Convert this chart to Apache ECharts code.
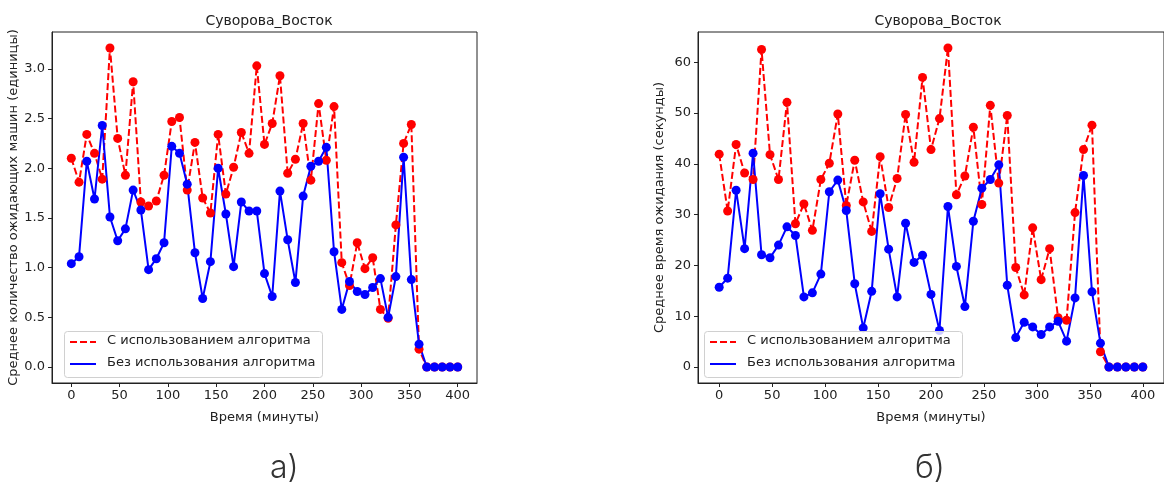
<!DOCTYPE html>
<html lang="ru">
<head>
    <meta charset="UTF-8">
    <title>Суворова_Восток</title>
    <script src="https://cdn.jsdelivr.net/npm/echarts@6/dist/echarts.min.js"></script>
    <style>
        html, body {margin: 0; padding: 0; background: #fff;}
        #main {width: 1164px; height: 488px;}
    </style>
</head>
<body>
<div id="main"></div>
<script type="text/javascript">

    // время, минуты
    var minutes = [0, 8, 16, 24, 32, 40, 48, 56, 64, 72, 80, 88, 96, 104, 112, 120, 128, 136, 144, 152,
        160, 168, 176, 184, 192, 200, 208, 216, 224, 232, 240, 248, 256, 264, 272, 280, 288, 296, 304, 312,
        320, 328, 336, 344, 352, 360, 368, 376, 384, 392, 400];

    // а) среднее количество ожидающих машин
    var carsWith = [2.10, 1.86, 2.34, 2.15, 1.89, 3.21, 2.30, 1.93, 2.87, 1.66, 1.62, 1.67, 1.93, 2.47, 2.51,
        1.78, 2.26, 1.70, 1.55, 2.34, 1.74, 2.01, 2.36, 2.15, 3.03, 2.24, 2.45, 2.93, 1.95, 2.09, 2.45, 1.88,
        2.65, 2.08, 2.62, 1.05, 0.82, 1.25, 0.99, 1.10, 0.58, 0.49, 1.43, 2.25, 2.44, 0.18, 0, 0, 0, 0, 0];
    var carsWithout = [1.04, 1.11, 2.07, 1.69, 2.43, 1.51, 1.27, 1.39, 1.78, 1.58, 0.98, 1.09, 1.25, 2.22, 2.15,
        1.84, 1.15, 0.69, 1.06, 2.00, 1.54, 1.01, 1.66, 1.57, 1.57, 0.94, 0.71, 1.77, 1.28, 0.85, 1.72, 2.02,
        2.07, 2.21, 1.16, 0.58, 0.86, 0.76, 0.73, 0.80, 0.89, 0.50, 0.91, 2.11, 0.88, 0.23, 0, 0, 0, 0, 0];

    // б) среднее время ожидания, секунды
    var waitWith = [41.9, 30.7, 43.8, 38.2, 36.9, 62.5, 41.8, 36.9, 52.1, 28.2, 32.1, 26.9, 36.9, 40.1, 49.8,
        31.8, 40.7, 32.5, 26.7, 41.4, 31.4, 37.1, 49.7, 40.3, 57.0, 42.8, 48.9, 62.8, 33.9, 37.6, 47.2, 32.0,
        51.5, 36.2, 49.5, 19.6, 14.2, 27.4, 17.2, 23.3, 9.7, 9.2, 30.4, 42.8, 47.6, 3.0, 0, 0, 0, 0, 0];
    var waitWithout = [15.7, 17.5, 34.8, 23.3, 42.1, 22.1, 21.5, 24.0, 27.6, 25.9, 13.8, 14.6, 18.3, 34.5, 36.8,
        30.8, 16.4, 7.7, 14.9, 34.1, 23.2, 13.8, 28.3, 20.6, 22.0, 14.3, 7.2, 31.6, 19.8, 11.9, 28.7, 35.2,
        36.9, 39.8, 16.1, 5.8, 8.8, 7.9, 6.4, 7.9, 9.0, 5.1, 13.6, 37.7, 14.8, 4.7, 0, 0, 0, 0, 0];

    var xTicks = [0, 50, 100, 150, 200, 250, 300, 350, 400];
    var carsTicks = [0, 0.5, 1.0, 1.5, 2.0, 2.5, 3.0];
    var waitTicks = [0, 10, 20, 30, 40, 50, 60];

    var seriesNames = ['С использованием алгоритма', 'Без использования алгоритма'];
    var title = 'Суворова_Восток';

    var FONT = 'DejaVu Sans';

    function pairs(ys) {
        return minutes.map(function (m, i) {
            return [m, ys[i]];
        });
    }

    function xAxisFor(idx) {
        return {
            type: 'value', gridIndex: idx, min: -20, max: 420,
            name: 'Время (минуты)', nameLocation: 'middle', nameGap: 28,
            nameTextStyle: {fontFamily: FONT, fontSize: 13, color: '#222'},
            splitLine: {show: false},
            axisLine: {show: true, onZero: false, lineStyle: {color: '#222', width: 1}},
            axisTick: {show: true, length: 4, lineStyle: {color: '#222'}, customValues: xTicks},
            axisLabel: {fontFamily: FONT, fontSize: 13, color: '#222', margin: 6, customValues: xTicks}
        };
    }

    function yAxisFor(idx, name, min, max, ticks, digits, gap) {
        return {
            type: 'value', gridIndex: idx, min: min, max: max,
            name: name, nameLocation: 'middle', nameGap: gap, nameRotate: 90,
            nameTextStyle: {fontFamily: FONT, fontSize: 13, color: '#222'},
            splitLine: {show: false},
            axisLine: {show: true, onZero: false, lineStyle: {color: '#222', width: 1}},
            axisTick: {show: true, length: 4, lineStyle: {color: '#222'}, customValues: ticks},
            axisLabel: {
                fontFamily: FONT, fontSize: 13, color: '#222', margin: 7, customValues: ticks,
                formatter: function (v) {
                    return v.toFixed(digits);
                }
            }
        };
    }

    function lineSeries(idx, name, ys, color, dashed) {
        return {
            type: 'line', name: name, xAxisIndex: idx, yAxisIndex: idx,
            data: pairs(ys),
            symbol: 'circle', symbolSize: 9, showSymbol: true,
            itemStyle: {color: color},
            lineStyle: {color: color, width: 2, type: dashed ? [7, 3] : 'solid'},
            animation: false, silent: true
        };
    }

    function legendBox(x, y) {
        return [
            {type: 'rect', left: x, top: y, shape: {width: 258, height: 46, r: 3},
                style: {fill: 'rgba(255,255,255,0.8)', stroke: '#d0d0d0', lineWidth: 1}, z: 100},
            {type: 'line', shape: {x1: x + 6, y1: y + 11, x2: x + 32, y2: y + 11},
                style: {stroke: '#ff0000', lineWidth: 2, lineDash: [7, 3]}, z: 101},
            {type: 'line', shape: {x1: x + 6, y1: y + 33, x2: x + 32, y2: y + 33},
                style: {stroke: '#0000ff', lineWidth: 2}, z: 101},
            {type: 'text', left: x + 43, top: y + 3, z: 101,
                style: {text: seriesNames[0], font: '13px "' + FONT + '"', fill: '#222'}},
            {type: 'text', left: x + 43, top: y + 25, z: 101,
                style: {text: seriesNames[1], font: '13px "' + FONT + '"', fill: '#222'}}
        ];
    }

    var myChart = echarts.init(document.getElementById('main'), null, {renderer: 'canvas'});

    var option = {
        backgroundColor: '#fff',
        animation: false,
        title: [
            {text: title, left: 264, top: 9, textAlign: 'center',
                textStyle: {fontFamily: FONT, fontSize: 14, fontWeight: 'normal', color: '#222'}},
            {text: title, left: 933, top: 9, textAlign: 'center',
                textStyle: {fontFamily: FONT, fontSize: 14, fontWeight: 'normal', color: '#222'}}
        ],
        grid: [
            {left: 52, top: 32, width: 425, height: 351, show: true, borderColor: '#222', borderWidth: 1,
                backgroundColor: 'transparent'},
            {left: 698, top: 32, width: 470, height: 351, show: true, borderColor: '#222', borderWidth: 1,
                backgroundColor: 'transparent'}
        ],
        xAxis: [xAxisFor(0), xAxisFor(1)],
        yAxis: [
            yAxisFor(0, 'Среднее количество ожидающих машин (единицы)', -0.1605, 3.3705, carsTicks, 1, 30),
            yAxisFor(1, 'Среднее время ожидания (секунды)', -3.14, 65.94, waitTicks, 0, 32)
        ],
        series: [
            lineSeries(0, seriesNames[0], carsWith, '#ff0000', true),
            lineSeries(0, seriesNames[1], carsWithout, '#0000ff', false),
            lineSeries(1, seriesNames[0], waitWith, '#ff0000', true),
            lineSeries(1, seriesNames[1], waitWithout, '#0000ff', false)
        ],
        graphic: legendBox(64, 331).concat(legendBox(704, 331)).concat([
            {type: 'text', left: 270, top: 452,
                style: {text: 'а)', font: '300 32px Inter', fill: '#333'}},
            {type: 'text', left: 915, top: 452,
                style: {text: 'б)', font: '300 32px Inter', fill: '#333'}}
        ])
    };

    myChart.setOption(option);

</script>
</body>
</html>
